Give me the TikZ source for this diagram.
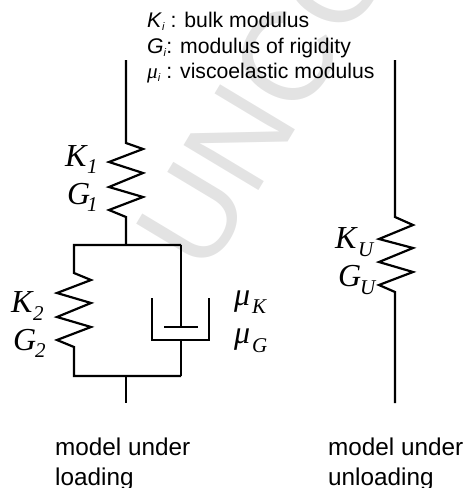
\documentclass[tikz,border=0pt]{standalone}
\usepackage{fontspec}
\usepackage{tikz}
\setmainfont{Liberation Sans}
\newfontfamily\labelfont{Liberation Serif}

\tikzset{
    member/.style={line width=2.2pt, line join=miter},
    legendtext/.style={anchor=base west, inner sep=0pt, font=\fontsize{21.2}{24}\selectfont},
    captiontext/.style={anchor=base west, inner sep=0pt, font=\fontsize{24.3}{28}\selectfont},
    symbol/.style={anchor=base west, inner sep=0pt, font=\labelfont\itshape\fontsize{32}{34}\selectfont},
    subscript/.style={anchor=base west, inner sep=0pt, font=\labelfont\itshape\fontsize{21}{23}\selectfont},
    watermark/.style={anchor=base west, inner sep=0pt, rotate=59, text=black!11, font=\fontsize{127}{130}\selectfont}
}

\begin{document}
\begin{tikzpicture}[x=1pt,y=-1pt]
    \useasboundingbox (0,0) rectangle (466,488);

    % Faint mark behind the drawing
    \begin{scope}
        \clip (0,0) rectangle (466,488);
        \node[watermark] (mark) at (206,278) {UNCO};
    \end{scope}

    % Legend
    \node[legendtext] (legK) at (147,27) {\textit{K}\raisebox{-3pt}{\fontsize{11}{12}\selectfont\textit{i}} : bulk modulus};
    \node[legendtext] (legG) at (147,53) {\textit{G}\raisebox{-3pt}{\fontsize{11}{12}\selectfont\textit{i}}: modulus of rigidity};
    \node[legendtext] (legM) at (147,78) {{\labelfont\itshape μ}\raisebox{-3pt}{\fontsize{11}{12}\selectfont\textit{i}} : viscoelastic modulus};

    % Model under loading, upper spring
    \coordinate (topL) at (126,60);
    \coordinate (jointT) at (126,245);
    \draw[member] (topL) -- (126,143) -- (143,149) -- (109,162) -- (143,173) -- (109,187)
        -- (143,197) -- (109,210) -- (126,217) -- (jointT);

    % Parallel part
    \coordinate (cornerTL) at (74,245);
    \coordinate (cornerTR) at (181,245);
    \coordinate (cornerBL) at (74,376);
    \coordinate (cornerBR) at (181,376);
    \coordinate (jointB) at (126,376);
    \coordinate (endL) at (126,403);
    \draw[member] (cornerTR) -- (cornerTL) -- (74,273) -- (91,280) -- (57,293) -- (91,303) -- (57,317)
        -- (91,327) -- (57,340) -- (74,347) -- (cornerBL) -- (cornerBR);
    \draw[member] (jointB) -- (endL);

    % Dashpot
    \coordinate (pistonC) at (181,327);
    \coordinate (pistonL) at (164,327);
    \coordinate (pistonR) at (198,327);
    \coordinate (cupB) at (181,340);
    \draw[member] (cornerTR) -- (pistonC);
    \draw[member] (pistonL) -- (pistonR);
    \draw[member] (152,298) -- (152,340) -- (209,340) -- (209,298);
    \draw[member] (cupB) -- (cornerBR);

    % Model under unloading
    \coordinate (topR) at (395,60);
    \coordinate (endR) at (395,403);
    \draw[member] (topR) -- (395,217) -- (413,225) -- (379,239) -- (413,248) -- (379,262)
        -- (413,272) -- (379,285) -- (395,292) -- (endR);

    % Labels of the springs
    \node[symbol] (K1) at (65,166) {K};
    \node[subscript] (K1s) at (87,173) {1};
    \node[symbol] (G1) at (67,204) {G};
    \node[subscript] (G1s) at (87,211) {1};
    \node[symbol] (K2) at (11,312) {K};
    \node[subscript] (K2s) at (33,320) {2};
    \node[symbol] (G2) at (13,350) {G};
    \node[subscript] (G2s) at (35,357) {2};
    \node[symbol] (KU) at (335,248) {K};
    \node[subscript] (KUs) at (358,256) {U};
    \node[symbol] (GU) at (338,286) {G};
    \node[subscript] (GUs) at (360,294) {U};

    % Labels of the dashpot
    \node[symbol] (muK) at (234,305) {μ};
    \node[subscript] (muKs) at (252,313) {K};
    \node[symbol] (muG) at (234,343) {μ};
    \node[subscript] (muGs) at (252,352) {G};

    % Captions
    \node[captiontext] (capL1) at (55,455) {model under};
    \node[captiontext] (capL2) at (55,485) {loading};
    \node[captiontext] (capR1) at (328,455) {model under};
    \node[captiontext] (capR2) at (328,485) {unloading};
\end{tikzpicture}
\end{document}
